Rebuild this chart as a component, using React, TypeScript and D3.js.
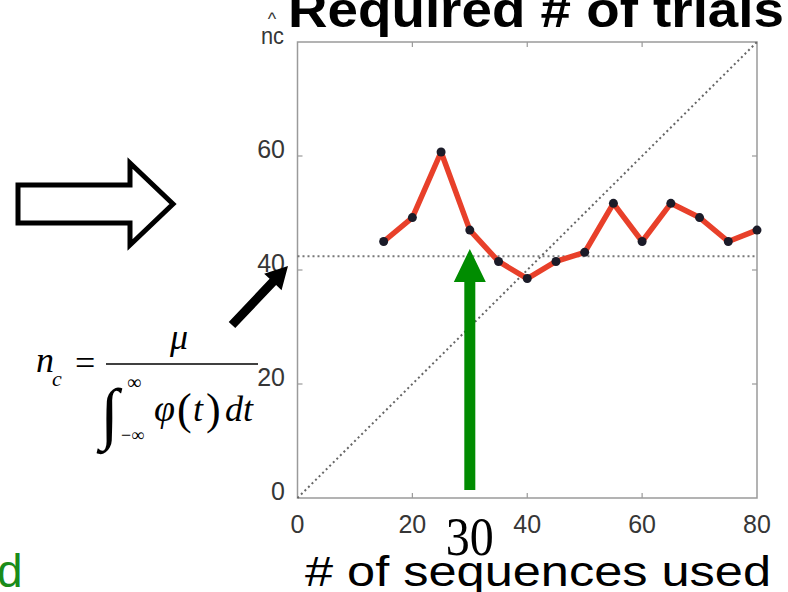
import React from 'react';
import * as d3 from 'd3';

// sequences used vs required number of trials
const seqCounts = [15, 20, 25, 30, 35, 40, 45, 50, 55, 60, 65, 70, 75, 80];
const requiredTrials = [45, 49.2, 60.7, 47, 41.5, 38.5, 41.5, 43.1, 51.7, 45, 51.7, 49.2, 45, 47];
const thresholdLevel = 42.4;
const xTicks = [0, 20, 40, 60, 80];
const yTicks = [0, 20, 40, 60, 80];
const yTickLabels = [0, 20, 40, 60];
const markedCount = 30;

const W = 788;
const H = 592;

const App: React.FC = () => {
  const x = d3.scaleLinear().domain([0, 80]).range([297.5, 757]);
  const y = d3.scaleLinear().domain([0, 80]).range([498, 42]);

  const pts = seqCounts.map((s, i) => ({ s, v: requiredTrials[i] }));
  const line = d3.line<{ s: number; v: number }>().x(d => x(d.s)).y(d => y(d.v));

  const [x0, x1] = x.range();
  const [y0, y1] = y.range();
  const tickLen = 5;
  const axisGray = '#9a9a9a';
  const labelColor = '#363636';

  // green arrow at the marked count
  const gx = x(markedCount);
  const greenArrow = [
    [gx, 249], [gx + 16, 282], [gx + 5.5, 282], [gx + 5.5, 490],
    [gx - 5.5, 490], [gx - 5.5, 282], [gx - 16, 282],
  ].map(p => p.join(',')).join(' ');

  // black pointer arrow
  const tail = [232, 325];
  const tip = [288, 266];
  const dx = tip[0] - tail[0], dy = tip[1] - tail[1];
  const len = Math.hypot(dx, dy);
  const ux = dx / len, uy = dy / len;
  const nx = -uy, ny = ux;
  const headLen = 22, headW = 12, shaftW = 4.5;
  const bx = tip[0] - ux * headLen, by = tip[1] - uy * headLen;
  const blackArrow = [
    [tail[0] + nx * shaftW, tail[1] + ny * shaftW],
    [bx + nx * shaftW, by + ny * shaftW],
    [bx + nx * headW, by + ny * headW],
    tip,
    [bx - nx * headW, by - ny * headW],
    [bx - nx * shaftW, by - ny * shaftW],
    [tail[0] - nx * shaftW, tail[1] - ny * shaftW],
  ].map(p => p.join(',')).join(' ');

  const openArrow = [
    [18, 185], [130, 185], [130, 163], [173, 204], [130, 245], [130, 223], [18, 223],
  ].map(p => p.join(',')).join(' ');

  const serif = '"Liberation Serif", "Times New Roman", serif';
  const sans = '"Liberation Sans", Arial, sans-serif';

  return (
    <svg width={W} height={H} style={{ position: 'absolute', left: 0, top: 0, background: '#fff' }}>
      {/* title, cut off by the top edge */}
      <text x={288} y={27} fontFamily={sans} fontWeight="bold" fontSize={50}
        textLength={496} lengthAdjust="spacingAndGlyphs" fill="#000">Required # of trials</text>

      {/* n-hat c label */}
      <text x={272} y={25} fontFamily={sans} fontSize={18} fill={labelColor} textAnchor="middle">^</text>
      <text x={261} y={44} fontFamily={sans} fontSize={23} fill={labelColor}
        textLength={23} lengthAdjust="spacingAndGlyphs">nc</text>

      {/* plot frame */}
      <rect x={x0} y={y1} width={x1 - x0} height={y0 - y1} fill="none" stroke={axisGray} strokeWidth={1.5} />
      {xTicks.slice(1, -1).map(t => (
        <g key={'xt' + t}>
          <line x1={x(t)} x2={x(t)} y1={y0} y2={y0 - tickLen} stroke={axisGray} strokeWidth={1.2} />
          <line x1={x(t)} x2={x(t)} y1={y1} y2={y1 + tickLen} stroke={axisGray} strokeWidth={1.2} />
        </g>
      ))}
      {yTicks.slice(1, -1).map(t => (
        <g key={'yt' + t}>
          <line x1={x0} x2={x0 + tickLen} y1={y(t)} y2={y(t)} stroke={axisGray} strokeWidth={1.2} />
          <line x1={x1} x2={x1 - tickLen} y1={y(t)} y2={y(t)} stroke={axisGray} strokeWidth={1.2} />
        </g>
      ))}

      {/* reference lines */}
      <line x1={x(0)} y1={y(0)} x2={x(80)} y2={y(80)} stroke="#666" strokeWidth={2} strokeDasharray="2 3" />
      <line x1={x0} x2={x1} y1={y(thresholdLevel)} y2={y(thresholdLevel)} stroke="#777" strokeWidth={2} strokeDasharray="2 3" />

      {/* data */}
      <path d={line(pts) || ''} fill="none" stroke="#e8402a" strokeWidth={5.5} strokeLinejoin="round" />
      {pts.map(d => (
        <circle key={d.s} cx={x(d.s)} cy={y(d.v)} r={4.5} fill="#1b1b28" />
      ))}

      {/* tick labels */}
      {xTicks.map(t => (
        <text key={'xl' + t} x={x(t)} y={533} textAnchor="middle" fontFamily={sans} fontSize={25} fill={labelColor}>{t}</text>
      ))}
      {yTickLabels.map(t => (
        <text key={'yl' + t} x={285} y={y(t) + 2} textAnchor="end" fontFamily={sans} fontSize={25} fill={labelColor}>{t}</text>
      ))}

      {/* annotations */}
      <polygon points={openArrow} fill="#fff" stroke="#000" strokeWidth={5} strokeLinejoin="miter" />
      <polygon points={blackArrow} fill="#000" />
      <polygon points={greenArrow} fill="#008c00" />

      {/* formula */}
      <g fontFamily={serif} fill="#000">
        <text x={36} y={372} fontSize={36} fontStyle="italic">n</text>
        <text x={52} y={386} fontSize={22} fontStyle="italic">c</text>
        <text x={75} y={375} fontSize={36}>=</text>
        <line x1={106} x2={258} y1={364} y2={364} stroke="#000" strokeWidth={1.6} />
        <text x={170} y={349} fontSize={36} fontStyle="italic">μ</text>
        <text x={100} y={436} fontSize={68} fontStyle="italic">∫</text>
        <text x={127} y={389} fontSize={20}>∞</text>
        <text x={121} y={441} fontSize={18}>−∞</text>
        <text x={154} y={421} fontSize={38} fontStyle="italic">φ</text>
        <text x={177} y={424} fontSize={44}>(</text>
        <text x={193} y={421} fontSize={36} fontStyle="italic">t</text>
        <text x={206} y={424} fontSize={44}>)</text>
        <text x={225} y={421} fontSize={36} fontStyle="italic">dt</text>
      </g>

      <text x={gx} y={555} textAnchor="middle" fontFamily={serif} fontSize={54}
        textLength={48} lengthAdjust="spacingAndGlyphs" fill="#000">{markedCount}</text>
      <text x={305} y={586} fontFamily={sans} fontSize={42}
        textLength={466} lengthAdjust="spacingAndGlyphs" fill="#000"># of sequences used</text>
      <text x={-3} y={587} fontFamily={sans} fontSize={46} fill="#1a8c1a">d</text>
    </svg>
  );
};

export default App;
